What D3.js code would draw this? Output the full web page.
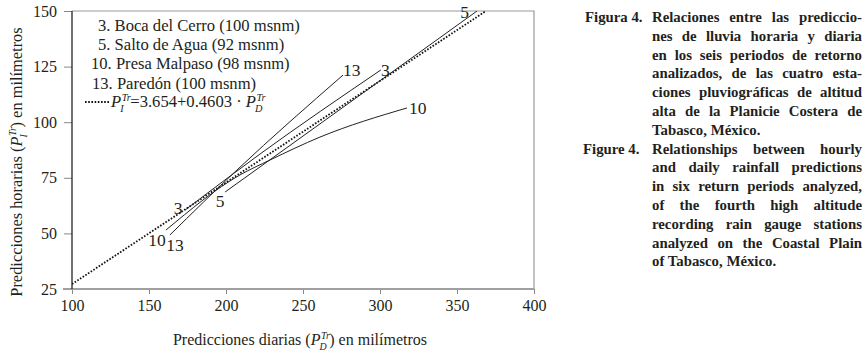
<!DOCTYPE html>
<html lang="es">
<head>
<meta charset="UTF-8">
<title>Figura 4</title>
<style>
  body { margin: 0; background: #fff; }
  svg text { font-family: "Liberation Serif", "DejaVu Serif", serif; fill: #231f20; }
</style>
</head>
<body>
<svg width="867" height="356" id="svg"></svg>
<script src="https://d3js.org/d3.v7.min.js"></script>
<script>
// ejes
const xTicks = [100, 150, 200, 250, 300, 350, 400]
const yTicks = [25, 50, 75, 100, 125, 150]

// estaciones (leyenda)
const stationIds = ["3", "5", "10", "13"]
const stationNames = ["Boca del Cerro (100 msnm)", "Salto de Agua (92 msnm)",
  "Presa Malpaso (98 msnm)", "Paredón (100 msnm)"]

// predicciones diarias (x) y horarias (y)
const diaria3 = [173.4, 222.1, 300.6]
const horaria3 = [60.5, 85.7, 123.5]
const diaria5 = [199.4, 363.0]
const horaria5 = [68.6, 150]
const diaria10 = [161.0, 209.1, 228.6, 261.0, 317.5]
const horaria10 = [51.5, 76.3, 83.0, 93.3, 106.4]
const diaria13 = [163.6, 207.1, 276.0]
const horaria13 = [49.3, 78.5, 121.2]

// recta de ajuste (punteada)
const regDiaria = [100, 368.8]
const regHoraria = [27.2, 150]

// pie de figura
const captionEs = ["Relaciones entre las prediccio-", "nes de lluvia horaria y diaria",
  "en los seis periodos de retorno", "analizados, de las cuatro esta-",
  "ciones pluviográficas de altitud", "alta de la Planicie Costera de", "Tabasco, México."]
const captionEn = ["Relationships between hourly", "and daily rainfall predictions",
  "in six return periods analyzed,", "of the fourth high altitude",
  "recording rain gauge stations", "analyzed on the Coastal Plain", "of Tabasco, México."]

const svg = d3.select("svg#svg")
const x = d3.scaleLinear().domain([100, 400]).range([72, 534])
const y = d3.scaleLinear().domain([25, 150]).range([289, 11])

const series = [
  { id: "3", xs: diaria3, ys: horaria3, low: [-7, 4, "middle"], high: [0, 6, "start"] },
  { id: "5", xs: diaria5, ys: horaria5, low: [-5, 15, "middle"], high: [-8, 7, "end"] },
  { id: "10", xs: diaria10, ys: horaria10, low: [-9, 16, "middle"], high: [2, 6, "start"] },
  { id: "13", xs: diaria13, ys: horaria13, low: [5, 16, "middle"], high: [0, 1, "start"] }
]

svg.append("clipPath").attr("id", "clip").append("rect")
  .attr("x", x(100)).attr("y", y(150)).attr("width", x(400) - x(100)).attr("height", y(25) - y(150))

// marco superior y derecho
svg.append("path")
  .attr("d", `M${x(100)},${y(150)}H${x(400)}V${y(25)}`)
  .attr("fill", "none").attr("stroke", "#9a9a9a").attr("stroke-width", 1.2)

// eje x
const gx = svg.append("g").attr("transform", `translate(0,${y(25)})`)
  .call(d3.axisBottom(x).tickValues(xTicks).tickSize(5).tickPadding(6))
gx.select(".domain").remove()
gx.append("line").attr("x1", x(100) - 9).attr("x2", x(400)).attr("stroke", "#a0a0a0").attr("stroke-width", 2)
gx.selectAll(".tick line").attr("stroke", "#888")
gx.selectAll(".tick text").attr("font-size", 16).attr("font-family", "Liberation Serif").attr("fill", "#231f20")

// eje y
const gy = svg.append("g").attr("transform", `translate(${x(100)},0)`)
  .call(d3.axisLeft(y).tickValues(yTicks).tickSize(8).tickPadding(7))
gy.select(".domain").remove()
gy.append("line").attr("y1", y(25)).attr("y2", y(150)).attr("stroke", "#111").attr("stroke-width", 1.2)
gy.selectAll(".tick line").attr("stroke", "#888")
gy.selectAll(".tick").filter(d => d === 25).select("line").remove()
gy.selectAll(".tick text").attr("font-size", 16).attr("font-family", "Liberation Serif").attr("fill", "#231f20")

// curvas
const line = d3.line().x(d => x(d[0])).y(d => y(d[1])).curve(d3.curveMonotoneX)
const plot = svg.append("g").attr("clip-path", "url(#clip)")

plot.append("path")
  .attr("d", line(d3.zip(regDiaria, regHoraria)))
  .attr("fill", "none").attr("stroke", "#111").attr("stroke-width", 1.8).attr("stroke-dasharray", "1.6,1.6")

series.forEach(s => {
  const pts = d3.zip(s.xs, s.ys)
  plot.append("path").attr("d", line(pts))
    .attr("fill", "none").attr("stroke", "#222").attr("stroke-width", 1)
  const a = pts[0], b = pts[pts.length - 1]
  svg.append("text").attr("x", x(a[0]) + s.low[0]).attr("y", y(a[1]) + s.low[1])
    .attr("text-anchor", s.low[2]).attr("font-size", 17.5).text(s.id)
  svg.append("text").attr("x", x(b[0]) + s.high[0]).attr("y", y(b[1]) + s.high[1])
    .attr("text-anchor", s.high[2]).attr("font-size", 17.5).text(s.id)
})

// P con superindice Tr y subindice apilados
function addP(t, sub, size) {
  const small = size * 0.62
  t.append("tspan").attr("font-style", "italic").text("P")
  const sup = t.append("tspan").attr("font-style", "italic").attr("font-size", small)
    .attr("dx", 0.5).attr("dy", -size * 0.36).text("Tr")
  const wSup = sup.node().getComputedTextLength()
  const lo = t.append("tspan").attr("font-style", "italic").attr("font-size", small)
    .attr("dx", -wSup - 1.5).attr("dy", size * 0.66).text(sub)
  const wLo = lo.node().getComputedTextLength()
  return { dx: wSup - wLo + 1, dy: -size * 0.30 }
}

// leyenda
const legX = [98, 98, 91, 92]
stationIds.forEach((id, i) => {
  svg.append("text").attr("x", legX[i]).attr("y", 31 + i * 19.2)
    .attr("font-size", 16.6).text(`${id}. ${stationNames[i]}`)
})
svg.append("line").attr("x1", 85).attr("x2", 110).attr("y1", 102).attr("y2", 102)
  .attr("stroke", "#111").attr("stroke-width", 1.8).attr("stroke-dasharray", "1.6,1.6")
const f = svg.append("text").attr("x", 111).attr("y", 107).attr("font-size", 16.6)
let r = addP(f, "I", 16.6)
f.append("tspan").attr("dx", r.dx).attr("dy", r.dy).text("=3.654+0.4603 · ")
r = addP(f, "D", 16.6)

// titulos de ejes
const xt = svg.append("text").attr("x", 300).attr("y", 345).attr("text-anchor", "middle").attr("font-size", 16)
xt.append("tspan").text("Predicciones diarias (")
r = addP(xt, "D", 16)
xt.append("tspan").attr("dx", r.dx).attr("dy", r.dy).text(") en milímetros")

const yt = svg.append("text").attr("transform", "translate(22,162) rotate(-90)")
  .attr("text-anchor", "middle").attr("font-size", 16.4)
yt.append("tspan").text("Predicciones horarias (")
r = addP(yt, "I", 16.4)
yt.append("tspan").attr("dx", r.dx).attr("dy", r.dy).text(") en milímetros")

// pie de figura, justificado
function caption(label, lines, labelX, top) {
  const fs = 14.8
  svg.append("text").attr("x", labelX).attr("y", top).attr("font-size", fs)
    .attr("font-weight", "bold").text(label)
  lines.forEach((s, i) => {
    const t = svg.append("text").attr("x", 652).attr("y", top + i * 18.8)
      .attr("font-size", fs).attr("font-weight", "bold").text(s)
    if (i < lines.length - 1) {
      const w = t.node().getComputedTextLength()
      const gaps = s.split(" ").length - 1
      if (gaps > 0) t.style("word-spacing", ((862 - 652 - w) / gaps) + "px")
    }
  })
}
caption("Figura 4.", captionEs, 585, 22)
caption("Figure 4.", captionEn, 583, 153.6)
</script>
</body>
</html>
